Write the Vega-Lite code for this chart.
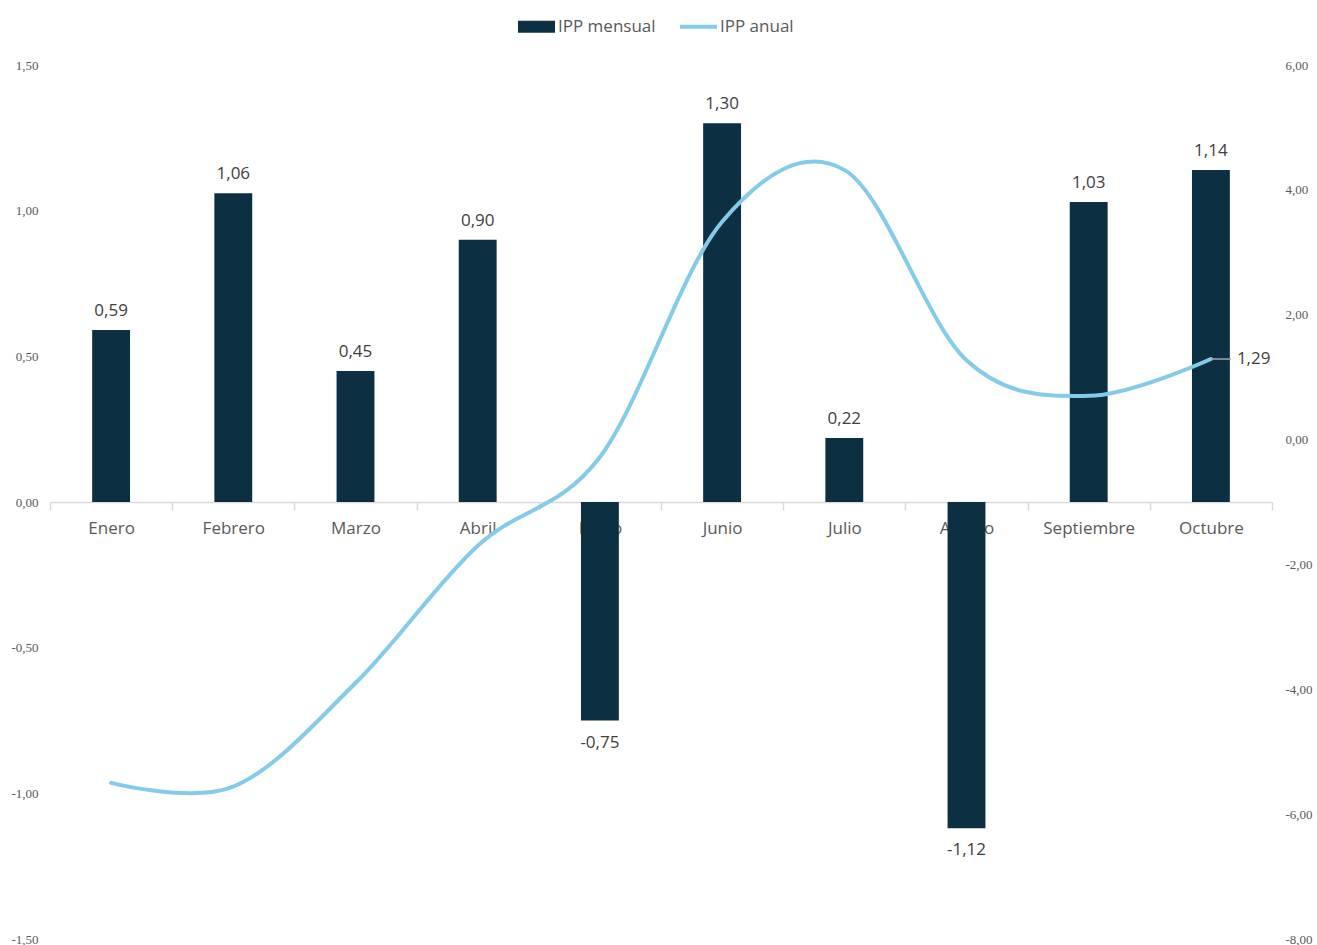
{
  "$schema": "https://vega.github.io/schema/vega-lite/v6.json",
  "width": 1222,
  "height": 874,
  "autosize": {"type": "none"},
  "padding": {"left": 50, "top": 65, "right": 45, "bottom": 6},
  "background": "white",
  "config": {"view": {"stroke": null}, "font": "Open Sans", "legend": {"layout": {"top": {"anchor": "middle"}}}},
  "data": {
    "values": [
      {"mes": "Enero", "mensual": 0.59, "anual": -5.50},
      {"mes": "Febrero", "mensual": 1.06, "anual": -5.56},
      {"mes": "Marzo", "mensual": 0.45, "anual": -3.90},
      {"mes": "Abril", "mensual": 0.90, "anual": -1.70},
      {"mes": "Mayo", "mensual": -0.75, "anual": -0.28},
      {"mes": "Junio", "mensual": 1.30, "anual": 3.49},
      {"mes": "Julio", "mensual": 0.22, "anual": 4.32},
      {"mes": "Agosto", "mensual": -1.12, "anual": 1.27},
      {"mes": "Septiembre", "mensual": 1.03, "anual": 0.70},
      {"mes": "Octubre", "mensual": 1.14, "anual": 1.29}
    ]
  },
  "transform": [
    {"calculate": "replace(replace(format(datum.mensual, '.2f'), '.', ','), '\u2212', '-')", "as": "labM"},
    {"calculate": "replace(replace(format(datum.anual, '.2f'), '.', ','), '\u2212', '-')", "as": "labA"}
  ],
  "encoding": {
    "x": {
      "field": "mes",
      "type": "nominal",
      "sort": null,
      "scale": {"paddingInner": 0, "paddingOuter": 0},
      "axis": {
        "title": null,
        "orient": "bottom",
        "offset": -437,
        "domainColor": "#d9d9d9",
        "domainWidth": 1.5,
        "tickColor": "#d9d9d9",
        "tickWidth": 1.5,
        "tickSize": 8,
        "tickBand": "extent",
        "labelFont": "Open Sans",
        "labelFontSize": 17,
        "labelColor": "#595959",
        "labelPadding": 10,
        "labelAngle": 0
      }
    }
  },
  "layer": [
    {
      "encoding": {
        "y": {
          "field": "mensual",
          "type": "quantitative",
          "scale": {"domain": [-1.5, 1.5], "nice": false, "zero": false},
          "axis": {
            "title": null,
            "orient": "left",
            "values": [-1.5, -1, -0.5, 0, 0.5, 1, 1.5],
            "labelExpr": "replace(replace(format(datum.value, '.2f'), '.', ','), '\u2212', '-')",
            "domain": false,
            "ticks": false,
            "grid": false,
            "labelFont": "Liberation Serif",
            "labelFontSize": 13,
            "labelColor": "#595959",
            "labelPadding": 12
          }
        }
      },
      "layer": [
        {
          "mark": {"type": "bar", "width": {"band": 0.31}},
          "encoding": {
            "color": {
              "datum": "IPP mensual",
              "type": "nominal",
              "scale": {"domain": ["IPP mensual", "IPP anual"], "range": ["#0c2f41", "#83cbeb"]},
              "legend": {
                "title": null,
                "orient": "top",
                "direction": "horizontal",
                "offset": 30,
                "symbolSize": 1369,
                "labelFont": "Open Sans",
                "labelFontSize": 17,
                "labelColor": "#595959",
                "labelOffset": 13,
                "columnPadding": 16,
                "encode": {
                  "symbols": {
                    "update": {
                      "shape": {"signal": "datum.value === 'IPP anual' ? 'M-1,0H1' : 'M-1,-0.32H1V0.32H-1Z'"},
                      "fill": {"signal": "datum.value === 'IPP anual' ? 'transparent' : '#0c2f41'"},
                      "stroke": {"signal": "datum.value === 'IPP anual' ? '#83cbeb' : '#0c2f41'"},
                      "strokeWidth": {"signal": "datum.value === 'IPP anual' ? 4 : 0"},
                      "opacity": {"value": 1}
                    }
                  }
                }
              }
            }
          }
        },
        {
          "transform": [{"filter": "datum.mensual >= 0"}],
          "mark": {"type": "text", "baseline": "bottom", "dy": -10, "fontSize": 17, "font": "Open Sans", "color": "#404040"},
          "encoding": {"text": {"field": "labM"}}
        },
        {
          "transform": [{"filter": "datum.mensual < 0"}],
          "mark": {"type": "text", "baseline": "top", "dy": 14, "fontSize": 17, "font": "Open Sans", "color": "#404040"},
          "encoding": {"text": {"field": "labM"}}
        }
      ]
    },
    {
      "encoding": {
        "y": {
          "field": "anual",
          "type": "quantitative",
          "scale": {"domain": [-8, 6], "nice": false, "zero": false},
          "axis": {
            "title": null,
            "orient": "right",
            "values": [-8, -6, -4, -2, 0, 2, 4, 6],
            "labelExpr": "replace(replace(format(datum.value, '.2f'), '.', ','), '\u2212', '-')",
            "domain": false,
            "ticks": false,
            "grid": false,
            "labelFont": "Liberation Serif",
            "labelFontSize": 13,
            "labelColor": "#595959",
            "labelPadding": 13
          }
        }
      },
      "layer": [
        {
          "mark": {"type": "line", "interpolate": "cardinal", "strokeWidth": 4, "strokeCap": "round"},
          "encoding": {"color": {"datum": "IPP anual", "type": "nominal"}}
        },
        {
          "transform": [{"filter": "datum.mes === 'Octubre'"}],
          "mark": {"type": "rule", "color": "#a6a6a6", "strokeWidth": 1.5, "x2Offset": 20},
          "encoding": {"x2": {"field": "mes"}}
        },
        {
          "transform": [{"filter": "datum.mes === 'Octubre'"}],
          "mark": {"type": "text", "align": "left", "baseline": "middle", "dx": 26, "fontSize": 17, "font": "Open Sans", "color": "#404040"},
          "encoding": {"text": {"field": "labA"}}
        }
      ]
    }
  ],
  "resolve": {"scale": {"y": "independent"}}
}
